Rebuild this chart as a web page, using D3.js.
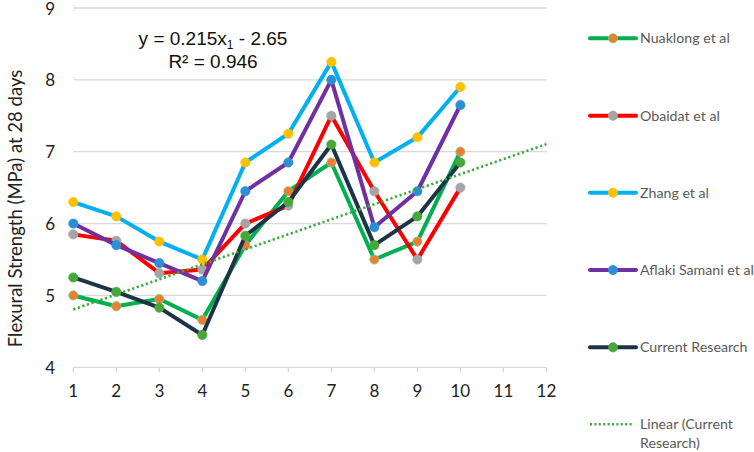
<!DOCTYPE html>
<meta charset="utf-8">
<style>
  body { margin: 0; background: #fff; }
  .chart text { font-family: Lato, "Open Sans", sans-serif; }
  .grid line { stroke: #d9d9d9; stroke-width: 1.3px; }
  .tick-label { fill: #222; font-size: 17px; }
  .legend text { fill: #595959; font-size: 14.2px; }
  .chart .eq { font-family: "Liberation Sans", Arial, sans-serif; font-size: 19px; fill: #111; text-anchor: middle; }
</style>
<body>
<svg class="chart"></svg>
<script src="https://cdn.jsdelivr.net/npm/d3@7"></script>
<script>

  // data
  var xs = [1, 2, 3, 4, 5, 6, 7, 8, 9, 10];
  var xTicks = [1, 2, 3, 4, 5, 6, 7, 8, 9, 10, 11, 12];
  var yTicks = [4, 5, 6, 7, 8, 9];

  var nuaklong = [5.0, 4.85, 4.95, 4.66, 5.7, 6.45, 6.85, 5.5, 5.75, 7.0];
  var obaidat  = [5.85, 5.76, 5.31, 5.36, 6.0, 6.25, 7.5, 6.45, 5.5, 6.5];
  var zhang    = [6.3, 6.1, 5.75, 5.5, 6.85, 7.25, 8.25, 6.85, 7.2, 7.9];
  var aflaki   = [6.0, 5.7, 5.45, 5.2, 6.45, 6.85, 8.0, 5.95, 6.45, 7.65];
  var current  = [5.25, 5.05, 4.83, 4.45, 5.83, 6.3, 7.1, 5.7, 6.1, 6.85];

  var seriesNames = ["Nuaklong et al", "Obaidat et al", "Zhang et al", "Aflaki Samani et al", "Current Research"];
  var lineColors = ["#00b050", "#ff0000", "#00b0f0", "#7030a0", "#1f3347"];
  var markColors = ["#ed7d31", "#a5a5a5", "#ffc000", "#2b8fd6", "#47a83a"];
  var allSeries = [nuaklong, obaidat, zhang, aflaki, current];

  var w = 754, h = 452;

  var chart = d3.select(".chart")
      .attr("width", w)
      .attr("height", h);

  var x = d3.scaleLinear().domain([1, 12]).range([73.3, 546.4]);
  var y = d3.scaleLinear().domain([4, 9]).range([367.3, 8]);

  // gridlines
  chart.append("g").attr("class", "grid")
    .selectAll("line")
    .data(yTicks)
    .enter().append("line")
      .attr("x1", x(1)).attr("x2", x(12))
      .attr("y1", function (d) { return y(d); })
      .attr("y2", function (d) { return y(d); });

  // x tick marks
  chart.append("g").attr("class", "grid")
    .selectAll("line")
    .data(xTicks)
    .enter().append("line")
      .attr("x1", function (d) { return x(d); })
      .attr("x2", function (d) { return x(d); })
      .attr("y1", y(4)).attr("y2", y(4) + 5);

  chart.append("g").selectAll("text")
    .data(xTicks)
    .enter().append("text")
      .attr("class", "tick-label")
      .attr("x", function (d) { return x(d); })
      .attr("y", 397)
      .attr("text-anchor", "middle")
      .text(function (d) { return d; });

  chart.append("g").selectAll("text")
    .data(yTicks)
    .enter().append("text")
      .attr("class", "tick-label")
      .attr("x", 55)
      .attr("y", function (d) { return y(d) + 6.5; })
      .attr("text-anchor", "end")
      .text(function (d) { return d; });

  chart.append("text")
    .attr("transform", "translate(22,208.5) rotate(-90)")
    .attr("text-anchor", "middle")
    .attr("fill", "#222")
    .style("font-size", "18.5px")
    .text("Flexural Strength (MPa) at 28 days");

  // series lines + markers
  var line = d3.line()
    .x(function (d, i) { return x(xs[i]); })
    .y(function (d) { return y(d); });

  allSeries.forEach(function (s, k) {
    var g = chart.append("g");
    g.append("path")
      .attr("d", line(s))
      .attr("fill", "none")
      .attr("stroke", lineColors[k])
      .attr("stroke-width", 4)
      .attr("stroke-linejoin", "round");
    g.selectAll("circle")
      .data(s)
      .enter().append("circle")
        .attr("cx", function (d, i) { return x(xs[i]); })
        .attr("cy", function (d) { return y(d); })
        .attr("r", 4.6)
        .attr("fill", markColors[k])
        .attr("stroke", k == 0 ? "#7fcf7f" : markColors[k])
        .attr("stroke-width", 0.8);
  });

  // linear trend of current research (least squares)
  var mx = d3.mean(xs), my = d3.mean(current);
  var slope = d3.sum(xs, function (d, i) { return (d - mx) * (current[i] - my); }) /
              d3.sum(xs, function (d) { return (d - mx) * (d - mx); });
  var icpt = my - slope * mx;

  chart.append("line")
    .attr("x1", x(1)).attr("y1", y(icpt + slope * 1))
    .attr("x2", x(12)).attr("y2", y(icpt + slope * 12))
    .attr("stroke", "#3aab3a")
    .attr("stroke-width", 2.6)
    .attr("stroke-dasharray", "2.2,2.6");

  // equation
  var eq = chart.append("text").attr("class", "eq").attr("x", 213).attr("y", 45);
  eq.append("tspan").text("y = 0.215x");
  eq.append("tspan").attr("dy", 4).style("font-size", "12px").text("1");
  eq.append("tspan").attr("dy", -4).text(" - 2.65");
  chart.append("text").attr("class", "eq").attr("x", 213).attr("y", 68).text("R\u00b2 = 0.946");

  // legend
  var legY = [38.3, 115.7, 192.7, 270, 347.3];
  var legend = chart.append("g").attr("class", "legend");
  seriesNames.forEach(function (n, k) {
    legend.append("line")
      .attr("x1", 590).attr("x2", 636)
      .attr("y1", legY[k]).attr("y2", legY[k])
      .attr("stroke", lineColors[k])
      .attr("stroke-width", 4)
      .attr("stroke-linecap", "round");
    legend.append("circle")
      .attr("cx", 613).attr("cy", legY[k]).attr("r", 4.6)
      .attr("fill", markColors[k])
      .attr("stroke", k == 0 ? "#7fcf7f" : markColors[k])
      .attr("stroke-width", 0.8);
    legend.append("text")
      .attr("x", 640).attr("y", legY[k] + 5)
      .text(n);
  });
  legend.append("line")
    .attr("x1", 590).attr("x2", 634)
    .attr("y1", 424.3).attr("y2", 424.3)
    .attr("stroke", "#3aab3a")
    .attr("stroke-width", 2.4)
    .attr("stroke-dasharray", "2,2.4");
  legend.append("text").attr("x", 640).attr("y", 429.3).text("Linear (Current");
  legend.append("text").attr("x", 640).attr("y", 448.3).text("Research)");

</script>
</body>
